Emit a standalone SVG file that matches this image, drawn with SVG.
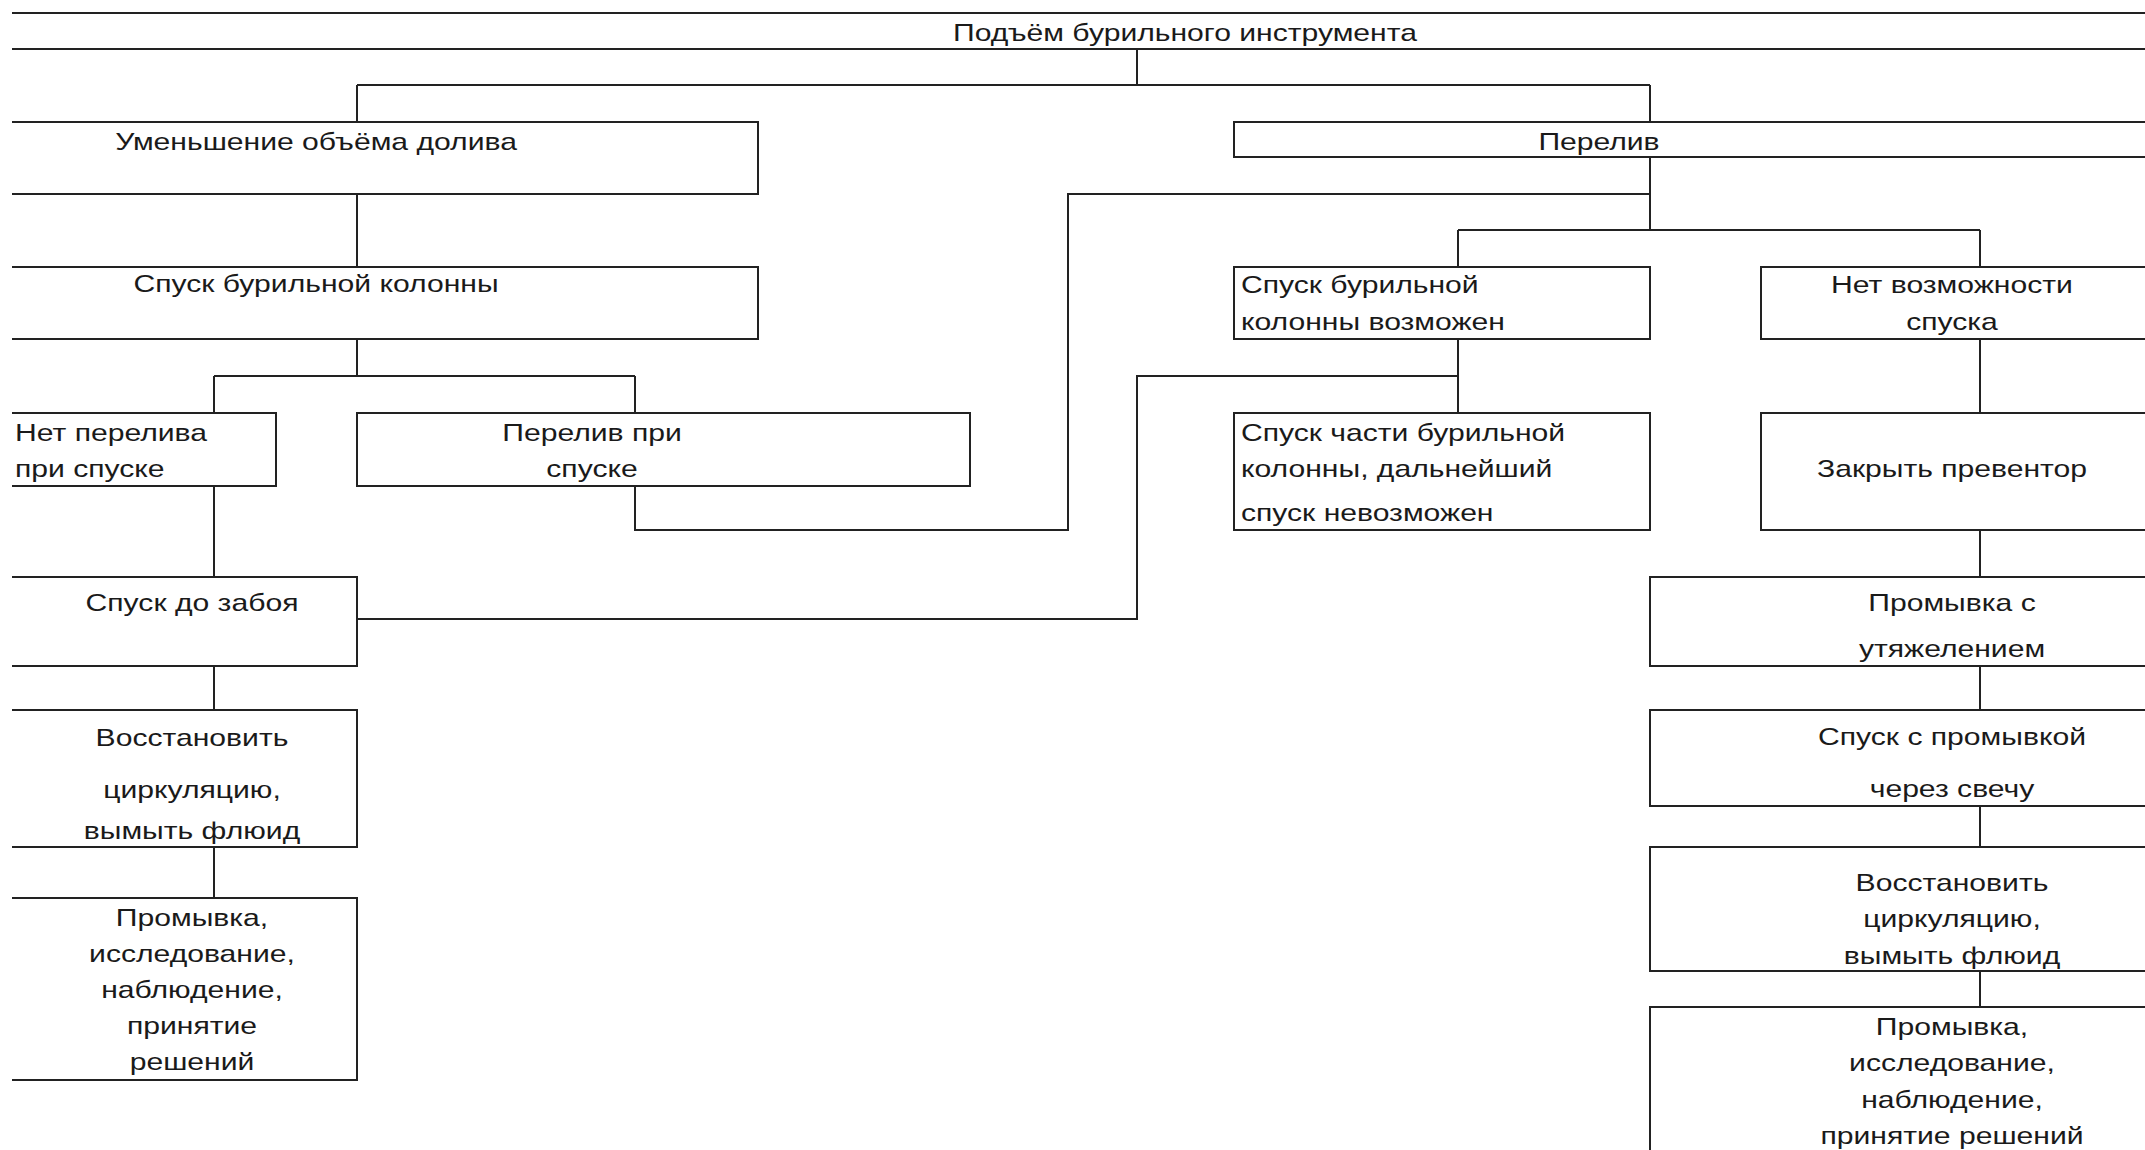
<svg xmlns="http://www.w3.org/2000/svg" width="2145" height="1150" viewBox="0 0 2145 1150">
<style>
.box{fill:none;stroke:#222;stroke-width:2}
.ln{fill:none;stroke:#222;stroke-width:2}
text{font-family:"Liberation Sans",Arial,sans-serif;font-size:24px;fill:#1a1a1a}
.c{text-anchor:middle}
.l{text-anchor:start}
</style>
<rect width="2145" height="1150" fill="#fff"/>
<g id="connectors">
<path class="ln" d="M1137,49 V85 M357,85 H1650 M357,85 V122 M1650,85 V122"/>
<path class="ln" d="M357,194 V267 M357,339 V376 M214,376 H635 M214,376 V413 M635,376 V413"/>
<path class="ln" d="M214,486 V577 M214,666 V710 M214,847 V898"/>
<path class="ln" d="M635,486 V530 H1068 V194 H1650"/>
<path class="ln" d="M1650,157 V230 M1458,230 H1980 M1458,230 V267 M1980,230 V267"/>
<path class="ln" d="M1458,339 V413 M1458,376 H1137 V619 H357"/>
<path class="ln" d="M1980,339 V413 M1980,530 V577 M1980,666 V710 M1980,806 V847 M1980,971 V1007"/>
</g>
<g id="n1"><path class="box" d="M12,13 H2145 M12,49 H2145"/><text class="c" transform="translate(1185,41) scale(1.255,1)">Подъём бурильного инструмента</text></g>
<g id="n2"><path class="box" d="M12,122 H758 V194 H12"/><text class="c" transform="translate(316,150) scale(1.255,1)">Уменьшение объёма долива</text></g>
<g id="n3"><path class="box" d="M2145,122 H1234 V157 H2145"/><text class="c" transform="translate(1599,150) scale(1.255,1)">Перелив</text></g>
<g id="n4"><path class="box" d="M12,267 H758 V339 H12"/><text class="c" transform="translate(316,292) scale(1.255,1)">Спуск бурильной колонны</text></g>
<g id="n5"><rect class="box" x="1234" y="267" width="416" height="72"/><text class="l" transform="translate(1241,293) scale(1.255,1)"><tspan x="0" y="0">Спуск бурильной</tspan><tspan x="0" y="37">колонны возможен</tspan></text></g>
<g id="n6"><path class="box" d="M2145,267 H1761 V339 H2145"/><text class="c" transform="translate(1952,293) scale(1.255,1)"><tspan x="0" y="0">Нет возможности</tspan><tspan x="0" y="37">спуска</tspan></text></g>
<g id="n7"><path class="box" d="M12,413 H276 V486 H12"/><text class="l" transform="translate(15,441) scale(1.255,1)"><tspan x="0" y="0">Нет перелива</tspan><tspan x="0" y="36">при спуске</tspan></text></g>
<g id="n8"><rect class="box" x="357" y="413" width="613" height="73"/><text class="c" transform="translate(592,441) scale(1.255,1)"><tspan x="0" y="0">Перелив при</tspan><tspan x="0" y="36">спуске</tspan></text></g>
<g id="n9"><rect class="box" x="1234" y="413" width="416" height="117"/><text class="l" transform="translate(1241,441) scale(1.255,1)"><tspan x="0" y="0">Спуск части бурильной</tspan><tspan x="0" y="36">колонны, дальнейший</tspan><tspan x="0" y="80">спуск невозможен</tspan></text></g>
<g id="n10"><path class="box" d="M2145,413 H1761 V530 H2145"/><text class="c" transform="translate(1952,477) scale(1.255,1)">Закрыть превентор</text></g>
<g id="n11"><path class="box" d="M12,577 H357 V666 H12"/><text class="c" transform="translate(192,611) scale(1.255,1)">Спуск до забоя</text></g>
<g id="n12"><path class="box" d="M2145,577 H1650 V666 H2145"/><text class="c" transform="translate(1952,611) scale(1.255,1)"><tspan x="0" y="0">Промывка с</tspan><tspan x="0" y="46">утяжелением</tspan></text></g>
<g id="n13"><path class="box" d="M12,710 H357 V847 H12"/><text class="c" transform="translate(192,746) scale(1.255,1)"><tspan x="0" y="0">Восстановить</tspan><tspan x="0" y="52">циркуляцию,</tspan><tspan x="0" y="93">вымыть флюид</tspan></text></g>
<g id="n14"><path class="box" d="M2145,710 H1650 V806 H2145"/><text class="c" transform="translate(1952,745) scale(1.255,1)"><tspan x="0" y="0">Спуск с промывкой</tspan><tspan x="0" y="52">через свечу</tspan></text></g>
<g id="n15"><path class="box" d="M12,898 H357 V1080 H12"/><text class="c" transform="translate(192,926) scale(1.255,1)"><tspan x="0" y="0">Промывка,</tspan><tspan x="0" y="36">исследование,</tspan><tspan x="0" y="72">наблюдение,</tspan><tspan x="0" y="108">принятие</tspan><tspan x="0" y="144">решений</tspan></text></g>
<g id="n16"><path class="box" d="M2145,847 H1650 V971 H2145"/><text class="c" transform="translate(1952,891) scale(1.255,1)"><tspan x="0" y="0">Восстановить</tspan><tspan x="0" y="36">циркуляцию,</tspan><tspan x="0" y="73">вымыть флюид</tspan></text></g>
<g id="n17"><path class="box" d="M2145,1007 H1650 V1150"/><text class="c" transform="translate(1952,1035) scale(1.255,1)"><tspan x="0" y="0">Промывка,</tspan><tspan x="0" y="36">исследование,</tspan><tspan x="0" y="73">наблюдение,</tspan><tspan x="0" y="109">принятие решений</tspan></text></g>
</svg>
